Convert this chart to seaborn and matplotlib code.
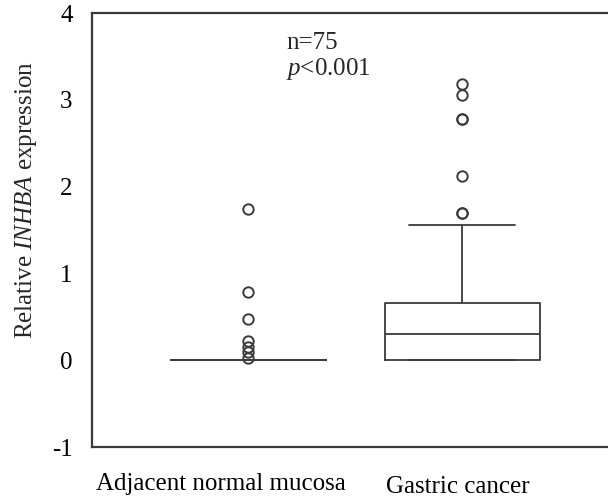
import matplotlib
matplotlib.use("Agg")
import matplotlib.pyplot as plt
import matplotlib.transforms as mtransforms
import seaborn as sns
import pandas as pd

categories = ["Adjacent normal mucosa", "Gastric cancer"]

normal_values = [0.0] * 68 + [0.03, 0.09, 0.15, 0.22, 0.47, 0.78, 1.74]

gastric_values = (
    [0.0] * 20
    + [0.01, 0.02, 0.03, 0.04, 0.05, 0.07, 0.08, 0.10, 0.12, 0.14, 0.16,
       0.18, 0.20, 0.22, 0.24, 0.26, 0.28]
    + [0.30]
    + [0.32, 0.34, 0.36, 0.38, 0.40, 0.42, 0.44, 0.46, 0.48, 0.50, 0.52,
       0.54, 0.56, 0.58, 0.60, 0.62, 0.64]
    + [0.66, 0.66]
    + [0.70, 0.75, 0.80, 0.85, 0.90, 0.95, 1.00, 1.10, 1.20, 1.35, 1.555]
    + [1.70, 1.70, 2.12, 2.78, 2.78, 3.06, 3.18]
)

y_ticks = [-1, 0, 1, 2, 3, 4]
annotation_n = "n=75"
annotation_p = r"$\mathit{p}$<0.001"
y_label = r"Relative $\mathit{INHBA}$ expression"

df = pd.DataFrame({
    "group": [categories[0]] * len(normal_values) + [categories[1]] * len(gastric_values),
    "value": normal_values + gastric_values,
})

sns.set_theme(style="white")
plt.rcParams["font.family"] = ["Liberation Serif", "DejaVu Serif"]
plt.rcParams["mathtext.fontset"] = "custom"
plt.rcParams["mathtext.rm"] = "Liberation Serif"
plt.rcParams["mathtext.it"] = "Liberation Serif:italic"

line_col = "#3a3a3a"
fig = plt.figure(figsize=(6.08, 4.98), dpi=100)
ax = fig.add_axes([92 / 608, 51 / 498, 526.5 / 608, 434 / 498])

sns.boxplot(
    data=df, x="group", y="value", order=categories, ax=ax,
    fill=False, color=line_col, width=0.726, whis=1.5, linewidth=1.3,
    flierprops=dict(marker="o", markersize=7.5, markeredgewidth=1.4,
                    markerfacecolor="none", markeredgecolor=line_col),
    capwidths=0.494,
)

ax.set_xlim(-0.733, 1.733)
ax.set_ylim(-1, 4)
ax.set_yticks(y_ticks)
ax.set_yticklabels([str(t) for t in y_ticks], fontsize=18)
ax.set_xlabel("")
ax.set_ylabel(y_label, fontsize=18)
ax.yaxis.set_label_coords(-0.100, 0.569)

for side in ["left", "top", "bottom", "right"]:
    ax.spines[side].set_color(line_col)
    ax.spines[side].set_linewidth(1.6)
ax.spines["right"].set_visible(False)

ax.tick_params(axis="y", direction="out", length=2, width=1.2, color=line_col,
               pad=12, labelcolor="black")
ax.tick_params(axis="x", length=0, pad=19, labelsize=18, labelcolor="black")

labels = ax.get_xticklabels()
offsets = [(-28, 0), (-4, -3)]
for lab, (dx, dy) in zip(labels, offsets):
    lab.set_fontsize(18)
    lab.set_transform(lab.get_transform() + mtransforms.ScaledTranslation(dx / 100, dy / 100, fig.dpi_scale_trans))

ax.text(0.176, 3.66, annotation_n, fontsize=18, ha="left", va="center")
ax.text(0.176, 3.36, annotation_p, fontsize=18, ha="left", va="center")

fig.savefig("out.png", dpi=100, facecolor="white")
